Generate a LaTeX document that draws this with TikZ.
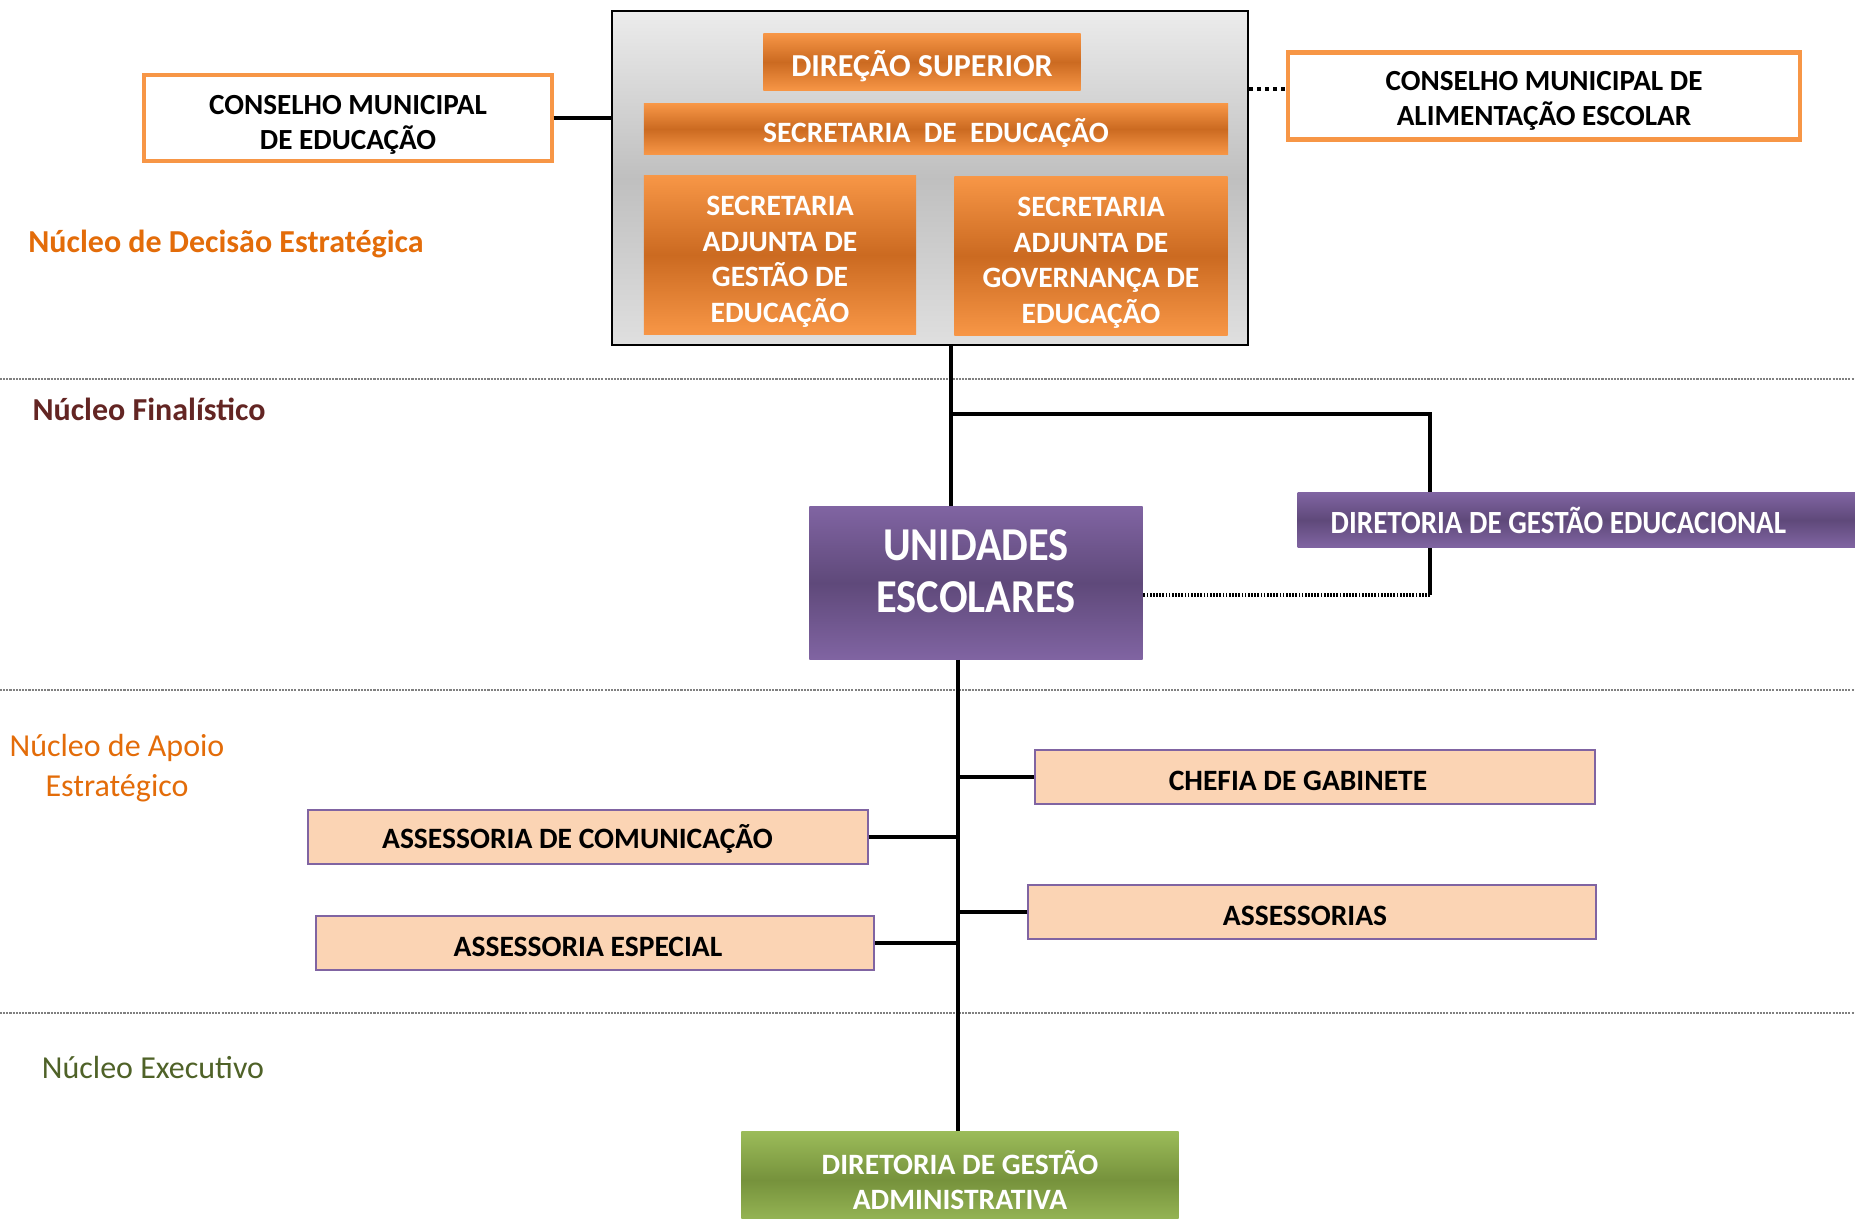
\documentclass[tikz,border=0pt]{standalone}
\usepackage{fontspec}
\setmainfont{Carlito}
\newfontfamily\narrowfont[FakeStretch=0.9]{Carlito}
\newcommand\topstrut[1]{\rule{0pt}{#1em}}
\definecolor{orgA}{HTML}{F79646}
\definecolor{orgB}{HTML}{CB6A21}
\definecolor{orgline}{HTML}{F79646}
\definecolor{purA}{HTML}{8064A2}
\definecolor{purB}{HTML}{5F497A}
\definecolor{peach}{HTML}{FBD4B4}
\definecolor{grnA}{HTML}{9BBB59}
\definecolor{grnB}{HTML}{76923C}
\definecolor{lblorg}{HTML}{E36C09}
\definecolor{lblred}{HTML}{632523}
\definecolor{lblgrn}{HTML}{4F6228}
\begin{document}
\begin{tikzpicture}[x=0.01cm, y=-0.01cm,
    orgbox/.style={top color=orgA, bottom color=orgA, middle color=orgB, text=white, align=center, inner sep=0pt, font=\bfseries\fontsize{8.4}{10.1}\selectfont},
    conbox/.style={draw=orgline, line width=1.2pt, fill=white, align=center, inner sep=0pt, font=\bfseries\fontsize{8.3}{10.1}\selectfont},
    purbox/.style={top color=purA, bottom color=purA, middle color=purB, text=white, inner sep=0pt},
    apbox/.style={draw=purA, line width=0.5pt, fill=peach, inner sep=0pt, minimum height=0.54cm, font=\bfseries\fontsize{8.4}{10}\selectfont, execute at begin node={\topstrut{0.95}}},
    grnbox/.style={top color=grnA, bottom color=grnA, middle color=grnB, text=white, align=center, inner sep=0pt, font=\bfseries\fontsize{8.4}{10}\selectfont},
    link/.style={line width=1.3pt},
    dotlink/.style={line width=1.3pt, dash pattern=on 0.5pt off 0.4pt},
    sepline/.style={gray, line width=0.7pt, dash pattern=on 0.6pt off 0.3pt},
    nucleo/.style={align=center, font=\fontsize{9.1}{11.2}\selectfont}]
    \path[use as bounding box, clip] (0,0) rectangle (1855,1218);
    \draw [sepline] (0,379) -- (1855,379);
    \draw [sepline] (0,690) -- (1855,690);
    \draw [sepline] (0,1013) -- (1855,1013);
    \node [draw, line width=0.6pt, top color=gray!15, bottom color=gray!25, middle color=gray!50, minimum width=6.35cm, minimum height=3.34cm] (topbox) at (930,178) {};
    \node [orgbox, minimum width=3.17cm, minimum height=0.57cm, font=\bfseries\fontsize{9.1}{10.1}\selectfont] (dirsup) at (922,62) {\topstrut{1.1}DIREÇÃO SUPERIOR};
    \node [orgbox, minimum width=5.84cm, minimum height=0.50cm] (secedu) at (936,129) {\topstrut{1.1}SECRETARIA\ \ DE\ \ EDUCAÇÃO};
    \node [orgbox, minimum width=2.72cm, minimum height=1.58cm] (sagest) at (780,255) {\topstrut{1.13}SECRETARIA\\ADJUNTA DE\\GESTÃO DE\\EDUCAÇÃO};
    \node [orgbox, minimum width=2.73cm, minimum height=1.58cm] (sagov) at (1091,256) {\topstrut{1.13}SECRETARIA\\ADJUNTA DE\\GOVERNANÇA DE\\EDUCAÇÃO};
    \node [conbox, minimum width=4.07cm, minimum height=0.86cm] (cme) at (348,118) {\topstrut{1.13}CONSELHO MUNICIPAL\\DE EDUCAÇÃO};
    \node [conbox, minimum width=5.12cm, minimum height=0.87cm] (cmae) at (1544,96) {\topstrut{1.0}CONSELHO MUNICIPAL DE\\ALIMENTAÇÃO ESCOLAR};
    \node [purbox, align=center, minimum width=3.33cm, minimum height=1.52cm, font=\narrowfont\bfseries\fontsize{13.4}{14.6}\selectfont] (uni) at (976,583) {UNIDADES\\ESCOLARES\rule[-0.24cm]{0pt}{0pt}};
    \node [purbox, anchor=west, inner xsep=0.33cm, minimum height=0.55cm, font=\narrowfont\bfseries\fontsize{9.2}{10}\selectfont] (dge) at (1297,520) {\topstrut{0.85}\makebox[5.6cm][l]{DIRETORIA DE GESTÃO EDUCACIONAL}};
    \node [apbox, minimum width=5.60cm] (chefia) at (1315,777) {CHEFIA DE GABINETE\hspace*{0.34cm}};
    \node [apbox, minimum width=5.59cm] (acom) at (588,837) {ASSESSORIA DE COMUNICAÇÃO\hspace*{0.21cm}};
    \node [apbox, minimum width=5.67cm] (assess) at (1312,912) {ASSESSORIAS\hspace*{0.14cm}};
    \node [apbox, minimum width=5.58cm] (aesp) at (595,943) {ASSESSORIA ESPECIAL\hspace*{0.14cm}};
    \node [grnbox, minimum width=4.37cm, minimum height=0.96cm] (dga) at (960,1180) {DIRETORIA DE GESTÃO\\ADMINISTRATIVA};
    \node [nucleo, text=lblorg, font=\bfseries\fontsize{9.1}{11}\selectfont] (nds) at (226,244) {Núcleo de Decisão Estratégica};
    \node [nucleo, text=lblred, font=\bfseries\fontsize{9.1}{11}\selectfont] (nf) at (149,409) {Núcleo Finalístico};
    \node [nucleo, text=lblorg] (nae) at (117,768) {Núcleo de Apoio\\Estratégico};
    \node [nucleo, text=lblgrn] (ne) at (153,1067) {Núcleo Executivo};
    \coordinate (c1) at (1265,89);
    \coordinate (j1) at (951,414);
    \coordinate (j2) at (1430,414);
    \coordinate (j3) at (1430,595);
    \coordinate (tr) at (958,0);
    \draw [link] (cme.east) -- (cme.east -| topbox.west);
    \draw [line width=1.4pt, dash pattern=on 1.2pt off 1.1pt] (topbox.east |- c1) -- (cmae.west |- c1);
    \draw [link] (topbox.south -| j1) -- (uni.north -| j1);
    \draw [link] (j1) -- (j2) -- (dge.north -| j2);
    \draw [link] (dge.south -| j2) -- (j3);
    \draw [dotlink] (j3) -- (uni.east |- j3);
    \draw [link] (uni.south -| tr) -- (dga.north -| tr);
    \draw [link] (chefia.west) -- (chefia.west -| tr);
    \draw [link] (acom.east) -- (acom.east -| tr);
    \draw [link] (assess.west) -- (assess.west -| tr);
    \draw [link] (aesp.east) -- (aesp.east -| tr);
\end{tikzpicture}
\end{document}
